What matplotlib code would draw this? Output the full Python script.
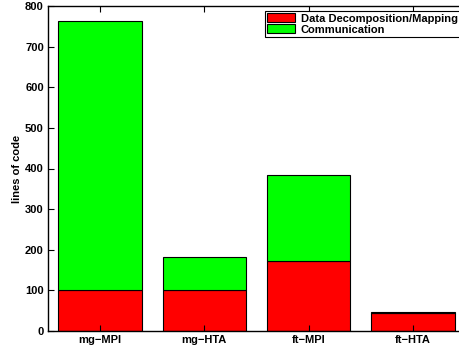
import matplotlib.pyplot as plt
from matplotlib import font_manager as fm
import numpy as np

categories = ['mg\u2212MPI', 'mg\u2212HTA', 'ft\u2212MPI', 'ft\u2212HTA']
decomposition = [102, 102, 173, 44]
communication = [661, 81, 210, 4]

# pick the regular-width Liberation Sans bold, not the Narrow one
bold_files = [f.fname for f in fm.fontManager.ttflist
              if f.name == 'Liberation Sans' and f.weight in ('bold', 700)
              and 'Narrow' not in f.fname and f.style == 'normal']
if bold_files:
    fp = fm.FontProperties(fname=bold_files[0], size=8)
else:
    fp = fm.FontProperties(family='DejaVu Sans', weight='bold', size=8)

fig = plt.figure(figsize=(4.6, 3.49), dpi=100)
ax = fig.add_axes([48 / 460, 18 / 349, 417 / 460, 325 / 349])

x = np.arange(1, len(categories) + 1)
ax.bar(x, decomposition, 0.8, color='#ff0000', edgecolor='black', linewidth=0.8,
       label='Data Decomposition/Mapping')
ax.bar(x, communication, 0.8, bottom=decomposition, color='#00ff00', edgecolor='black',
       linewidth=0.8, label='Communication')

ax.set_xlim(0.5, 4.5)
ax.set_ylim(0, 800)
ax.set_xticks(x)
ax.set_xticklabels(categories, fontproperties=fp)
ax.set_yticks(range(0, 801, 100))
ax.set_yticklabels([str(v) for v in range(0, 801, 100)], fontproperties=fp)
ax.tick_params(axis='both', direction='in', length=4, width=0.8,
               top=True, right=True)
ax.tick_params(axis='y', pad=3)
ax.tick_params(axis='x', pad=3)
for s in ax.spines.values():
    s.set_linewidth(1.0)
ax.set_ylabel('lines of code', fontproperties=fp, labelpad=2)

leg = ax.legend(loc='upper right', prop=fp, frameon=True, fancybox=False,
                edgecolor='black', framealpha=1, borderpad=0.2, labelspacing=0.05,
                handlelength=2.5, handleheight=0.9, handletextpad=0.5,
                bbox_to_anchor=(412 / 417, 0.985), borderaxespad=0)
leg.get_frame().set_linewidth(0.8)

fig.savefig('out.png', dpi=100)
